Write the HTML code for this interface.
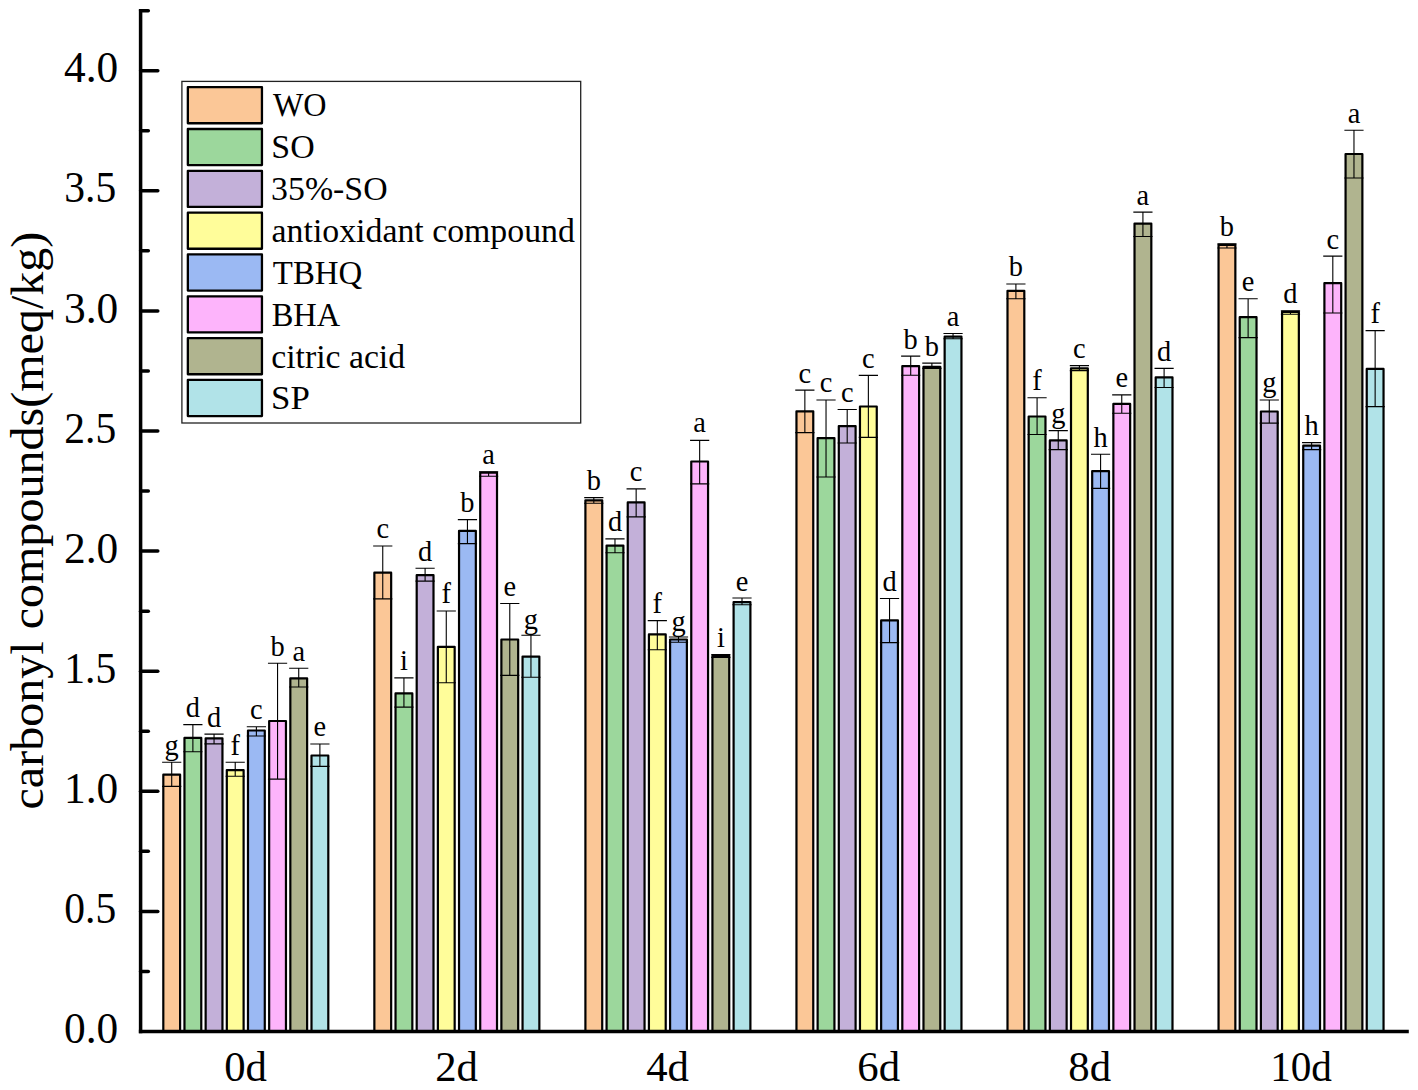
<!DOCTYPE html>
<html lang="en"><head><meta charset="utf-8"><title>carbonyl compounds</title>
<style>html,body{margin:0;padding:0;background:#fff}svg{display:block}</style></head>
<body>
<svg width="1418" height="1090" viewBox="0 0 1418 1090" font-family='"Liberation Serif", serif' fill="#000">
<rect width="1418" height="1090" fill="#fff"/>
<g stroke="#000" stroke-width="2.20" stroke-linejoin="round">
<rect x="163.31" y="774.70" width="16.80" height="256.80" fill="#FBC797"/>
<rect x="184.47" y="737.90" width="16.80" height="293.60" fill="#9CD79C"/>
<rect x="205.65" y="738.30" width="16.80" height="293.20" fill="#C3B0D9"/>
<rect x="226.81" y="770.10" width="16.80" height="261.40" fill="#FFFD9A"/>
<rect x="247.98" y="730.50" width="16.80" height="301.00" fill="#9BB9F3"/>
<rect x="269.16" y="721.00" width="16.80" height="310.50" fill="#FDB4FB"/>
<rect x="290.33" y="678.30" width="16.80" height="353.20" fill="#B0B48F"/>
<rect x="311.50" y="755.50" width="16.80" height="276.00" fill="#B1E3E8"/>
<rect x="374.36" y="572.70" width="16.80" height="458.80" fill="#FBC797"/>
<rect x="395.53" y="693.40" width="16.80" height="338.10" fill="#9CD79C"/>
<rect x="416.70" y="575.20" width="16.80" height="456.30" fill="#C3B0D9"/>
<rect x="437.87" y="646.80" width="16.80" height="384.70" fill="#FFFD9A"/>
<rect x="459.04" y="530.80" width="16.80" height="500.70" fill="#9BB9F3"/>
<rect x="480.21" y="472.70" width="16.80" height="558.80" fill="#FDB4FB"/>
<rect x="501.38" y="639.50" width="16.80" height="392.00" fill="#B0B48F"/>
<rect x="522.55" y="656.60" width="16.80" height="374.90" fill="#B1E3E8"/>
<rect x="585.41" y="500.30" width="16.80" height="531.20" fill="#FBC797"/>
<rect x="606.58" y="545.60" width="16.80" height="485.90" fill="#9CD79C"/>
<rect x="627.75" y="502.40" width="16.80" height="529.10" fill="#C3B0D9"/>
<rect x="648.92" y="634.40" width="16.80" height="397.10" fill="#FFFD9A"/>
<rect x="670.09" y="639.50" width="16.80" height="392.00" fill="#9BB9F3"/>
<rect x="691.26" y="461.50" width="16.80" height="570.00" fill="#FDB4FB"/>
<rect x="712.43" y="655.80" width="16.80" height="375.70" fill="#B0B48F"/>
<rect x="733.60" y="602.10" width="16.80" height="429.40" fill="#B1E3E8"/>
<rect x="796.46" y="411.30" width="16.80" height="620.20" fill="#FBC797"/>
<rect x="817.63" y="438.10" width="16.80" height="593.40" fill="#9CD79C"/>
<rect x="838.80" y="426.10" width="16.80" height="605.40" fill="#C3B0D9"/>
<rect x="859.97" y="406.50" width="16.80" height="625.00" fill="#FFFD9A"/>
<rect x="881.14" y="620.40" width="16.80" height="411.10" fill="#9BB9F3"/>
<rect x="902.31" y="366.10" width="16.80" height="665.40" fill="#FDB4FB"/>
<rect x="923.48" y="366.80" width="16.80" height="664.70" fill="#B0B48F"/>
<rect x="944.65" y="336.70" width="16.80" height="694.80" fill="#B1E3E8"/>
<rect x="1007.50" y="290.80" width="16.80" height="740.70" fill="#FBC797"/>
<rect x="1028.67" y="416.50" width="16.80" height="615.00" fill="#9CD79C"/>
<rect x="1049.84" y="440.40" width="16.80" height="591.10" fill="#C3B0D9"/>
<rect x="1071.01" y="368.30" width="16.80" height="663.20" fill="#FFFD9A"/>
<rect x="1092.18" y="471.10" width="16.80" height="560.40" fill="#9BB9F3"/>
<rect x="1113.36" y="403.90" width="16.80" height="627.60" fill="#FDB4FB"/>
<rect x="1134.52" y="223.60" width="16.80" height="807.90" fill="#B0B48F"/>
<rect x="1155.69" y="377.30" width="16.80" height="654.20" fill="#B1E3E8"/>
<rect x="1218.55" y="244.80" width="16.80" height="786.70" fill="#FBC797"/>
<rect x="1239.72" y="317.20" width="16.80" height="714.30" fill="#9CD79C"/>
<rect x="1260.89" y="411.50" width="16.80" height="620.00" fill="#C3B0D9"/>
<rect x="1282.06" y="311.90" width="16.80" height="719.60" fill="#FFFD9A"/>
<rect x="1303.23" y="445.70" width="16.80" height="585.80" fill="#9BB9F3"/>
<rect x="1324.40" y="283.10" width="16.80" height="748.40" fill="#FDB4FB"/>
<rect x="1345.57" y="154.00" width="16.80" height="877.50" fill="#B0B48F"/>
<rect x="1366.74" y="368.90" width="16.80" height="662.60" fill="#B1E3E8"/>
</g>
<g stroke="#000" stroke-width="1.1" fill="none">
<path d="M162.11 762.20H181.31M162.11 786.40H181.31M171.71 762.20V786.40"/>
<path d="M183.28 724.60H202.47M183.28 751.70H202.47M192.88 724.60V751.70"/>
<path d="M204.45 734.10H223.65M204.45 743.90H223.65M214.05 734.10V743.90"/>
<path d="M225.62 762.20H244.81M225.62 776.30H244.81M235.22 762.20V776.30"/>
<path d="M246.78 726.80H265.99M246.78 736.00H265.99M256.38 726.80V736.00"/>
<path d="M267.95 663.30H287.16M267.95 779.10H287.16M277.56 663.30V779.10"/>
<path d="M289.12 668.30H308.33M289.12 687.00H308.33M298.73 668.30V687.00"/>
<path d="M310.29 744.00H329.50M310.29 766.40H329.50M319.89 744.00V766.40"/>
<path d="M373.15 546.00H392.36M373.15 598.90H392.36M382.75 546.00V598.90"/>
<path d="M394.32 677.90H413.53M394.32 707.10H413.53M403.93 677.90V707.10"/>
<path d="M415.50 568.30H434.70M415.50 581.10H434.70M425.10 568.30V581.10"/>
<path d="M436.67 611.00H455.87M436.67 682.80H455.87M446.27 611.00V682.80"/>
<path d="M457.83 519.60H477.04M457.83 543.60H477.04M467.44 519.60V543.60"/>
<path d="M479.00 471.70H498.21M479.00 476.30H498.21M488.61 471.70V476.30"/>
<path d="M500.18 603.50H519.38M500.18 675.40H519.38M509.78 603.50V675.40"/>
<path d="M521.35 635.20H540.55M521.35 677.30H540.55M530.95 635.20V677.30"/>
<path d="M584.21 497.60H603.41M584.21 503.20H603.41M593.81 497.60V503.20"/>
<path d="M605.38 538.90H624.58M605.38 552.70H624.58M614.98 538.90V552.70"/>
<path d="M626.55 488.90H645.75M626.55 516.90H645.75M636.15 488.90V516.90"/>
<path d="M647.72 620.60H666.92M647.72 649.80H666.92M657.32 620.60V649.80"/>
<path d="M668.89 637.00H688.09M668.89 642.20H688.09M678.49 637.00V642.20"/>
<path d="M690.06 440.40H709.26M690.06 483.90H709.26M699.66 440.40V483.90"/>
<path d="M711.23 654.60H730.43M711.23 657.40H730.43M720.83 654.60V657.40"/>
<path d="M732.40 598.00H751.60M732.40 604.80H751.60M742.00 598.00V604.80"/>
<path d="M795.25 390.10H814.46M795.25 432.60H814.46M804.86 390.10V432.60"/>
<path d="M816.43 400.00H835.63M816.43 477.00H835.63M826.03 400.00V477.00"/>
<path d="M837.60 409.50H856.80M837.60 443.00H856.80M847.20 409.50V443.00"/>
<path d="M858.76 375.40H877.97M858.76 437.40H877.97M868.37 375.40V437.40"/>
<path d="M879.94 598.50H899.14M879.94 642.60H899.14M889.54 598.50V642.60"/>
<path d="M901.11 356.10H920.31M901.11 375.30H920.31M910.71 356.10V375.30"/>
<path d="M922.27 363.10H941.48M922.27 368.40H941.48M931.88 363.10V368.40"/>
<path d="M943.45 333.50H962.65M943.45 338.80H962.65M953.05 333.50V338.80"/>
<path d="M1006.30 284.00H1025.50M1006.30 298.70H1025.50M1015.90 284.00V298.70"/>
<path d="M1027.48 397.80H1046.67M1027.48 434.50H1046.67M1037.08 397.80V434.50"/>
<path d="M1048.64 430.60H1067.84M1048.64 449.60H1067.84M1058.24 430.60V449.60"/>
<path d="M1069.82 365.60H1089.01M1069.82 370.60H1089.01M1079.41 365.60V370.60"/>
<path d="M1090.99 454.30H1110.18M1090.99 488.40H1110.18M1100.59 454.30V488.40"/>
<path d="M1112.16 394.90H1131.36M1112.16 413.20H1131.36M1121.76 394.90V413.20"/>
<path d="M1133.33 212.10H1152.52M1133.33 236.50H1152.52M1142.92 212.10V236.50"/>
<path d="M1154.50 368.40H1173.69M1154.50 387.50H1173.69M1164.10 368.40V387.50"/>
<path d="M1217.36 243.90H1236.55M1217.36 248.00H1236.55M1226.95 243.90V248.00"/>
<path d="M1238.53 298.70H1257.72M1238.53 337.60H1257.72M1248.12 298.70V337.60"/>
<path d="M1259.69 400.00H1278.89M1259.69 423.10H1278.89M1269.29 400.00V423.10"/>
<path d="M1280.87 310.90H1300.06M1280.87 314.30H1300.06M1290.46 310.90V314.30"/>
<path d="M1302.04 442.60H1321.23M1302.04 449.60H1321.23M1311.63 442.60V449.60"/>
<path d="M1323.21 256.10H1342.40M1323.21 313.00H1342.40M1332.81 256.10V313.00"/>
<path d="M1344.38 130.30H1363.57M1344.38 178.00H1363.57M1353.97 130.30V178.00"/>
<path d="M1365.55 330.60H1384.74M1365.55 406.60H1384.74M1375.14 330.60V406.60"/>
</g>
<g font-size="28.4" text-anchor="middle">
<text x="171.71" y="754.60">g</text>
<text x="192.88" y="717.00">d</text>
<text x="214.05" y="726.50">d</text>
<text x="235.22" y="754.60">f</text>
<text x="256.38" y="719.20">c</text>
<text x="277.56" y="655.70">b</text>
<text x="298.73" y="661.30">a</text>
<text x="319.89" y="736.40">e</text>
<text x="382.75" y="538.40">c</text>
<text x="403.93" y="670.30">i</text>
<text x="425.10" y="560.70">d</text>
<text x="446.27" y="603.40">f</text>
<text x="467.44" y="512.00">b</text>
<text x="488.61" y="464.10">a</text>
<text x="509.78" y="595.90">e</text>
<text x="530.95" y="629.30">g</text>
<text x="593.81" y="490.00">b</text>
<text x="614.98" y="531.30">d</text>
<text x="636.15" y="481.30">c</text>
<text x="657.32" y="613.00">f</text>
<text x="678.49" y="631.30">g</text>
<text x="699.66" y="431.80">a</text>
<text x="720.83" y="647.00">i</text>
<text x="742.00" y="591.00">e</text>
<text x="804.86" y="382.50">c</text>
<text x="826.03" y="392.40">c</text>
<text x="847.20" y="401.90">c</text>
<text x="868.37" y="367.80">c</text>
<text x="889.54" y="590.90">d</text>
<text x="910.71" y="348.50">b</text>
<text x="931.88" y="355.50">b</text>
<text x="953.05" y="325.90">a</text>
<text x="1015.90" y="276.40">b</text>
<text x="1037.08" y="390.20">f</text>
<text x="1058.24" y="423.00">g</text>
<text x="1079.41" y="358.00">c</text>
<text x="1100.59" y="446.70">h</text>
<text x="1121.76" y="387.30">e</text>
<text x="1142.92" y="204.50">a</text>
<text x="1164.10" y="360.80">d</text>
<text x="1226.95" y="236.30">b</text>
<text x="1248.12" y="291.10">e</text>
<text x="1269.29" y="392.40">g</text>
<text x="1290.46" y="303.30">d</text>
<text x="1311.63" y="435.00">h</text>
<text x="1332.81" y="248.50">c</text>
<text x="1353.97" y="122.70">a</text>
<text x="1375.14" y="323.00">f</text>
</g>
<g stroke="#000" stroke-width="3.5" fill="none" stroke-linecap="butt">
<path d="M140.6 8.90V1033.25"/>
<path d="M138.85 1031.5H1408.8"/>
<path d="M140.6 971.45H148.3" stroke-linecap="round"/>
<path d="M140.6 911.40H157.8" stroke-linecap="round"/>
<path d="M140.6 851.35H148.3" stroke-linecap="round"/>
<path d="M140.6 791.30H157.8" stroke-linecap="round"/>
<path d="M140.6 731.25H148.3" stroke-linecap="round"/>
<path d="M140.6 671.20H157.8" stroke-linecap="round"/>
<path d="M140.6 611.15H148.3" stroke-linecap="round"/>
<path d="M140.6 551.10H157.8" stroke-linecap="round"/>
<path d="M140.6 491.05H148.3" stroke-linecap="round"/>
<path d="M140.6 431.00H157.8" stroke-linecap="round"/>
<path d="M140.6 370.95H148.3" stroke-linecap="round"/>
<path d="M140.6 310.90H157.8" stroke-linecap="round"/>
<path d="M140.6 250.85H148.3" stroke-linecap="round"/>
<path d="M140.6 190.80H157.8" stroke-linecap="round"/>
<path d="M140.6 130.75H148.3" stroke-linecap="round"/>
<path d="M140.6 70.70H157.8" stroke-linecap="round"/>
<path d="M140.6 10.65H148.3" stroke-linecap="round"/>
</g>
<g font-size="43.4" text-anchor="end">
<text x="118.2" y="1043.10">0.0</text>
<text text-anchor="start" transform="translate(64.25,923.00) scale(0.958,1)">0.5</text>
<text x="118.2" y="802.90">1.0</text>
<text text-anchor="start" transform="translate(64.25,682.80) scale(0.958,1)">1.5</text>
<text x="118.2" y="562.70">2.0</text>
<text text-anchor="start" transform="translate(64.25,442.60) scale(0.958,1)">2.5</text>
<text x="118.2" y="322.50">3.0</text>
<text text-anchor="start" transform="translate(64.25,202.40) scale(0.958,1)">3.5</text>
<text x="118.2" y="82.30">4.0</text>
</g>
<g font-size="41.7" text-anchor="middle">
<text transform="translate(245.50,1080.8) scale(1.025,1)">0d</text>
<text transform="translate(456.55,1080.8) scale(1.025,1)">2d</text>
<text transform="translate(667.60,1080.8) scale(1.025,1)">4d</text>
<text transform="translate(878.65,1080.8) scale(1.025,1)">6d</text>
<text transform="translate(1089.70,1080.8) scale(1.025,1)">8d</text>
<text transform="translate(1301.05,1080.8) scale(0.989,1)">10d</text>
</g>
<text transform="translate(42.6,520.6) rotate(-90) scale(1.046,1)" font-size="45.95" text-anchor="middle">carbonyl compounds(meq/kg)</text>
<rect x="181.9" y="81.4" width="398.8" height="341.6" fill="#fff" stroke="#222" stroke-width="1.3"/>
<g stroke="#000" stroke-width="2.3" stroke-linejoin="round">
<rect x="187.85" y="87.15" width="74.1" height="36.1" fill="#FBC797"/>
<rect x="187.85" y="128.98" width="74.1" height="36.1" fill="#9CD79C"/>
<rect x="187.85" y="170.81" width="74.1" height="36.1" fill="#C3B0D9"/>
<rect x="187.85" y="212.64" width="74.1" height="36.1" fill="#FFFD9A"/>
<rect x="187.85" y="254.47" width="74.1" height="36.1" fill="#9BB9F3"/>
<rect x="187.85" y="296.30" width="74.1" height="36.1" fill="#FDB4FB"/>
<rect x="187.85" y="338.13" width="74.1" height="36.1" fill="#B0B48F"/>
<rect x="187.85" y="379.96" width="74.1" height="36.1" fill="#B1E3E8"/>
</g>
<g font-size="34.7">
<text transform="translate(273.00,115.90) scale(0.9275,1)">WO</text>
<text transform="translate(271.29,158.43) scale(0.9779,1)">SO</text>
<text transform="translate(271.11,200.26) scale(0.9749,1)">35%-SO</text>
<text transform="translate(271.62,242.09) scale(0.9742,1)">antioxidant compound</text>
<text transform="translate(272.84,283.92) scale(0.9467,1)">TBHQ</text>
<text transform="translate(271.63,325.75) scale(0.9361,1)">BHA</text>
<text transform="translate(271.25,367.58) scale(0.9719,1)">citric acid</text>
<text transform="translate(271.04,409.41) scale(1.0036,1)">SP</text>
</g>
</svg>
</body></html>
